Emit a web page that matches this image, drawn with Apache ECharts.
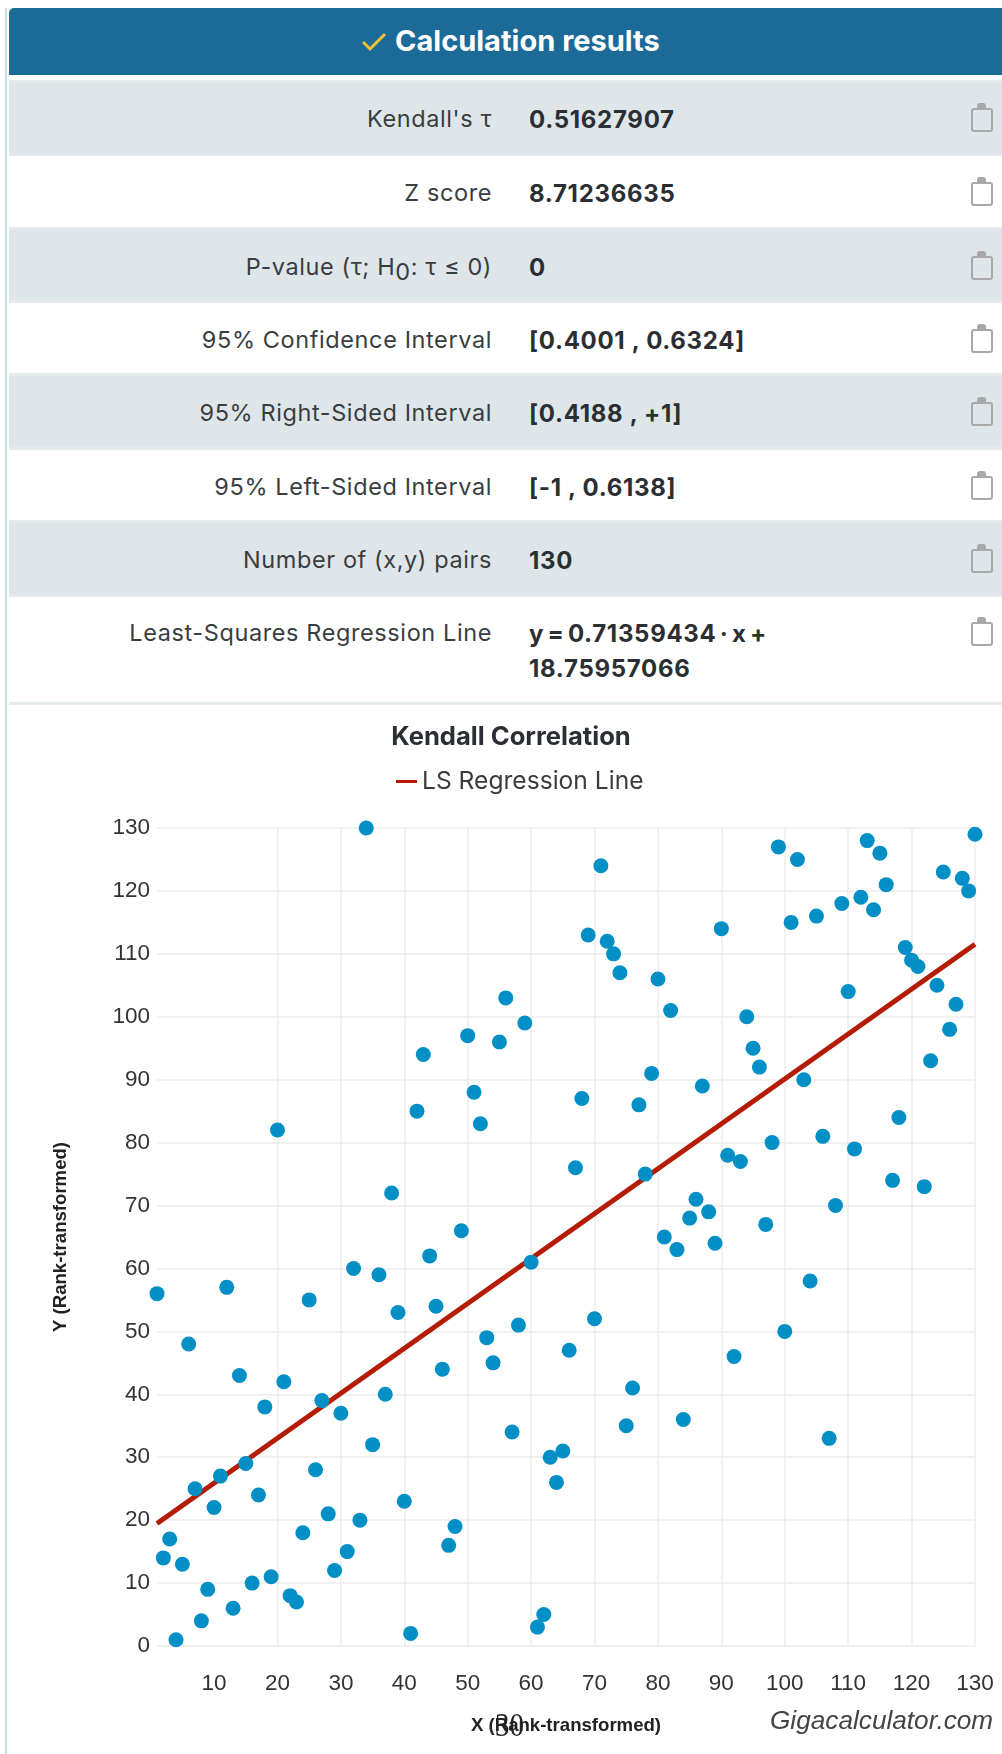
<!DOCTYPE html>
<html><head><meta charset="utf-8">
<script src="https://cdn.jsdelivr.net/npm/echarts@6/dist/echarts.min.js"></script>
<style>
html,body{margin:0;padding:0;background:#fff;width:1002px;height:1754px;overflow:hidden}
#page{position:relative;width:1002px;height:1754px;font-family:Inter,sans-serif;color:#333}
#rail{position:absolute;left:5px;top:8px;width:1.5px;height:1746px;background:#c9deec}
#head{position:absolute;left:9px;right:0;top:8px;height:67px;background:#1c6a98;border-top-left-radius:5px}
#title{position:absolute;left:386px;top:0;color:#fff;font:700 29px/66px Inter,sans-serif;white-space:nowrap}
#check{position:absolute;left:353px;top:24px}
.row{position:absolute;left:9px;right:0;box-sizing:border-box}
.row.a{background:#dee6e9;border-top:3px solid #e5eaec;border-bottom:3px solid #e5eaec}
.row.last{border-bottom:3px solid #e5eaec}
.lab{position:absolute;right:510px;font-size:23.5px;line-height:32px;white-space:nowrap;letter-spacing:.6px;color:#3a3d40}
.val{position:absolute;left:520px;width:300px;font-size:24px;line-height:35px;font-weight:700;letter-spacing:.7px;color:#2b2f33}
.val.eq{word-spacing:-3px}
.clip{position:absolute;left:962px;width:22px;height:24px;border:2.5px solid #a8a8a8;border-radius:3px;box-sizing:border-box}
.clip:before{content:"";position:absolute;left:4px;top:-7px;width:9px;height:5px;background:#a8a8a8;border-radius:3px 3px 0 0}
#chart{position:absolute;left:0;top:705px;width:1002px;height:1049px}
</style></head><body>
<div id="page">
<div id="rail"></div>
<div id="head"><svg id="check" width="25" height="20" viewBox="0 0 25 20"><polyline points="1,10 8,17 23,2" fill="none" stroke="#f2c230" stroke-width="3"/></svg><div id="title">Calculation results</div></div>
<div id="rows"></div>
<div id="chart"></div>
</div>
<script>
var statLabels = ["Kendall's τ","Z score","P-value (τ; H<sub style='font-size:1em;vertical-align:-5px;line-height:0'>0</sub>: τ ≤ 0)","95% Confidence Interval","95% Right-Sided Interval","95% Left-Sided Interval","Number of (x,y) pairs","Least-Squares Regression Line"];
var statValues = ["0.51627907","8.71236635","0","[0.4001 , 0.6324]","[0.4188 , +1]","[-1 , 0.6138]","130","y = 0.71359434 · x + 18.75957066"];
var rowTops = [80,156,227,303,373,450,520,597];
var rowBottoms = [156,227,303,373,450,520,597,705];
var textCenters = [119,193,267,340,413,487,560,633];

var xRanks = [1,2,3,4,5,6,7,8,9,10,11,12,13,14,15,16,17,18,19,20,21,22,23,24,25,26,27,28,29,30,31,32,33,34,35,36,37,38,39,40,41,42,43,44,45,46,47,48,49,50,51,52,53,54,55,56,57,58,59,60,61,62,63,64,65,66,67,68,69,70,71,72,73,74,75,76,77,78,79,80,81,82,83,84,85,86,87,88,89,90,91,92,93,94,95,96,97,98,99,100,101,102,103,104,105,106,107,108,109,110,111,112,113,114,115,116,117,118,119,120,121,122,123,124,125,126,127,128,129,130];
var yRanks = [56,14,17,1,13,48,25,4,9,22,27,57,6,43,29,10,24,38,11,82,42,8,7,18,55,28,39,21,12,37,15,60,20,130,32,59,40,72,53,23,2,85,94,62,54,44,16,19,66,97,88,83,49,45,96,103,34,51,99,61,3,5,30,26,31,47,76,87,113,52,124,112,110,107,35,41,86,75,91,106,65,101,63,36,68,71,89,69,64,114,78,46,77,100,95,92,67,80,127,50,115,125,90,58,116,81,33,70,118,104,79,119,128,117,126,121,74,84,111,109,108,73,93,105,123,98,102,122,120,129];
var lineX = [1,130];
var lineY = [19.47,111.53];
var xTicks = [10,20,30,40,50,60,70,80,90,100,110,120,130];

var rowsEl = document.getElementById('rows');
statLabels.forEach(function(l,i){
  var d=document.createElement('div');
  var border=(i%2===0)?3:0;
  d.className='row'+(i%2===0?' a':'')+(i===7?' last':'');
  d.style.top=rowTops[i]+'px'; d.style.height=(rowBottoms[i]-rowTops[i])+'px';
  var c=textCenters[i]-rowTops[i]-border;
  d.innerHTML='<div class="lab" style="top:'+(c-16)+'px">'+l+'</div><div class="val'+(i===7?' eq':'')+'" style="top:'+(c-17.5)+'px">'+statValues[i]+'</div><div class="clip" style="top:'+(c-11)+'px"></div>';
  rowsEl.appendChild(d);
});

var chart = echarts.init(document.getElementById('chart'));
var F = '"Liberation Sans",Arial,sans-serif';
chart.setOption({
  animation:false,
  title:{text:'Kendall Correlation',left:506,top:14,textAlign:'center',textStyle:{fontFamily:'Inter,sans-serif',fontSize:25.6,fontWeight:700,color:'#2b2f33'}},
  legend:{data:[{name:'LS Regression Line',icon:'rect'}],left:391,top:59,itemWidth:21,itemHeight:3,itemGap:10,textStyle:{fontFamily:'Inter,sans-serif',fontSize:24.6,color:'#3a3d40'}},
  grid:{left:157,right:27,top:123,bottom:108},
  xAxis:{type:'value',min:1,max:130,
    axisLine:{show:false},axisTick:{show:false,customValues:xTicks},
    axisLabel:{margin:26,fontFamily:F,fontSize:22.5,color:'#333',customValues:xTicks,hideOverlap:false},
    splitLine:{show:true,showMinLine:false,lineStyle:{color:'#ececec',width:1.5}},
    name:'X (Rank-transformed)',nameLocation:'middle',nameGap:70,nameTextStyle:{fontFamily:F,fontSize:18.6,fontWeight:700,color:'#222'}},
  yAxis:{type:'value',min:0,max:130,interval:10,
    axisLine:{show:false},axisTick:{show:false},
    axisLabel:{margin:7,fontFamily:F,fontSize:22.5,color:'#333',padding:[3,0,0,0]},
    splitLine:{lineStyle:{color:'#ececec',width:1.5}},
    name:'Y (Rank-transformed)',nameLocation:'middle',nameGap:87,nameRotate:90,nameTextStyle:{fontFamily:F,fontSize:18.6,fontWeight:700,color:'#222'}},
  series:[
    {name:'LS Regression Line',type:'line',z:2,symbol:'none',lineStyle:{color:'#b41c05',width:5},itemStyle:{color:'#b41c05'},data:lineX.map(function(x,i){return [x,lineY[i]];})},
    {name:'points',type:'scatter',z:3,symbolSize:15,itemStyle:{color:'#028fc6',opacity:1},data:xRanks.map(function(x,i){return [x,yRanks[i]];})}
  ],
  graphic:[
    {type:'text',left:770,top:1004,z:10,style:{text:'Gigacalculator.com',font:'italic 26.2px "Liberation Sans"',fill:'#444'}},
    {type:'text',x:495,y:1006,scaleX:0.88,z:10,style:{text:'30',font:'33px "Liberation Serif"',fill:'#222'}}
  ]
});
</script>
</body></html>
